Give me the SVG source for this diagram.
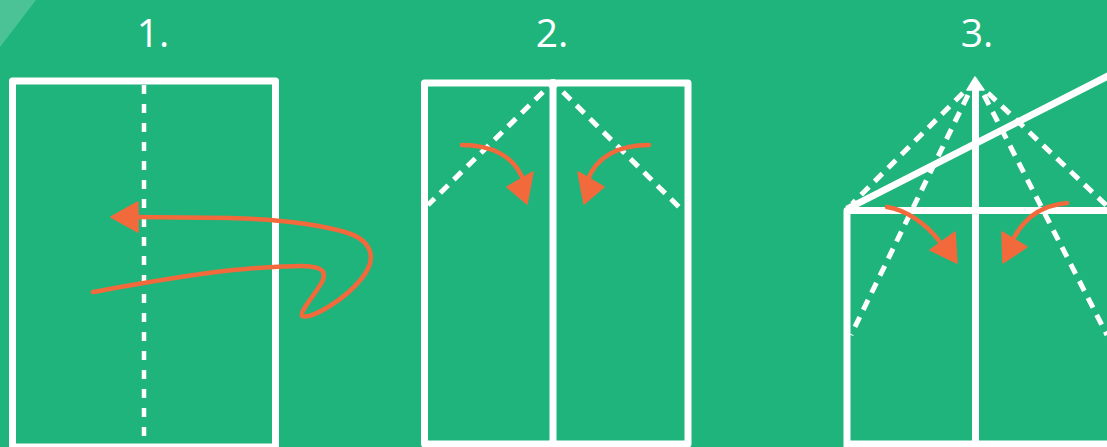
<svg xmlns="http://www.w3.org/2000/svg" width="1107" height="447" viewBox="0 0 1107 447">
  <style>
    .bg { fill: #1fb47c; }
    .edge { fill: none; stroke: #ffffff; stroke-width: 7; stroke-linejoin: round; }
    .dash { fill: none; stroke: #ffffff; stroke-width: 4.5; stroke-dasharray: 9 10; }
    .dash2 { fill: none; stroke: #ffffff; stroke-width: 5; stroke-dasharray: 11 8; }
    .fold { fill: none; stroke: #f26a3c; stroke-width: 4.5; stroke-linecap: round; stroke-linejoin: round; }
    .head { fill: #f26a3c; stroke: #f26a3c; stroke-width: 1.5; stroke-linejoin: round; }
    .label { fill: #ffffff; font-family: "Open Sans", "Noto Sans", sans-serif; font-size: 39px; font-weight: 400; text-anchor: middle; }
  </style>
  <rect class="bg" x="0" y="0" width="1107" height="447"/>
  <polygon points="0,0 36,0 0,47" fill="#ffffff" fill-opacity="0.2"/>

  <g id="labels">
    <text class="label" x="153" y="47">1.</text>
    <text class="label" x="552" y="47">2.</text>
    <text class="label" x="977" y="47">3.</text>
  </g>

  <g id="step1">
    <rect class="edge" x="12.5" y="81" width="263" height="366"/>
    <line class="dash" x1="144" y1="85" x2="144" y2="440"/>
  </g>

  <g id="step2">
    <rect class="edge" x="424.5" y="83" width="263.5" height="361"/>
    <line class="edge" x1="553" y1="83" x2="553" y2="447"/>
    <circle cx="553" cy="84" r="5" fill="#ffffff"/>
    <line class="dash2" x1="543" y1="92" x2="428" y2="205"/>
    <line class="dash2" x1="563" y1="92" x2="684" y2="212"/>
  </g>

  <g id="step3">
    <path class="edge" d="M847,447 L847,210.5 L1112,210.5 M847,444 L1112,444"/>
    <line class="edge" x1="975.5" y1="88" x2="975.5" y2="447"/>
    <polygon points="975,77 967,90 984,90" fill="#ffffff" stroke="#ffffff" stroke-width="1.5" stroke-linejoin="round"/>
    <line class="edge" stroke-width="6" x1="847" y1="209" x2="1110" y2="75"/>
    <line class="dash2" stroke-width="4.5" x1="963" y1="93" x2="852" y2="204"/>
    <line class="dash2" stroke-width="4.5" x1="968" y1="95" x2="851" y2="335"/>
    <line class="dash2" stroke-width="4.5" x1="984" y1="95" x2="1107" y2="335"/>
    <line class="dash2" stroke-width="4.5" x1="988" y1="93" x2="1107" y2="206"/>
  </g>

  <g id="connectors">
    <path class="fold" d="M93,292 C160,280 230,267 300,266 C320,266 328,270 322,282 C315,295 300,310 302,316 C310,320 345,300 362,278 C378,258 372,240 345,232 C310,222 270,219 230,218 L134,217"/>
    <polygon class="head" points="111,217 138,202 138,232"/>

    <path class="fold" stroke-width="5" d="M462,145 C490,145 515,155 524,182"/>
    <polygon class="head" points="507,187 533,172 527,204"/>
    <path class="fold" stroke-width="5" d="M649,145 C621,145 596,155 587,182"/>
    <polygon class="head" points="604,187 578,172 584,204"/>

    <path class="fold" stroke-width="4" d="M887,207 C905,210 925,222 940,242"/>
    <polygon class="head" points="930,250 955,232 957,263"/>
    <path class="fold" stroke-width="4" d="M1067,203 C1045,205 1025,215 1013,240"/>
    <polygon class="head" points="1002,232 1027,247 1003,263"/>
  </g>
</svg>
